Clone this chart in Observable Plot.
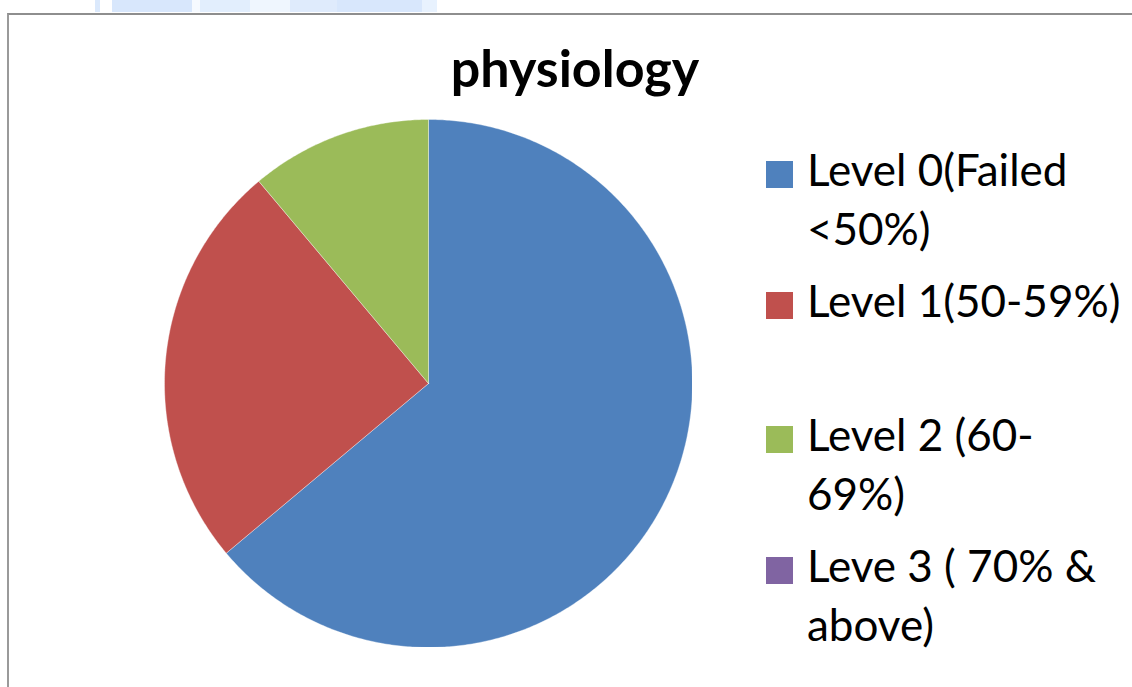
<!DOCTYPE html>
<html>
<head>
<meta charset="utf-8">
<script src="https://cdn.jsdelivr.net/npm/d3@7"></script>
<script src="https://cdn.jsdelivr.net/npm/@observablehq/plot@0.6"></script>
<style>
  html, body { margin: 0; padding: 0; background: #fff; }
  #wrap { position: relative; width: 1132px; height: 687px; overflow: hidden; background: #fff; font-family: Lato, "Open Sans", sans-serif; }
  #strip { position: absolute; left: 0; top: 0; width: 1132px; height: 12px;
    background: linear-gradient(to right, #fff 0 95px, #dbe9fc 95px 100px, #fff 100px 112px, #d8e7fc 112px 192px, #f6faff 192px 200px, #e2eefd 200px 250px, #eff6fe 250px 290px, #dfebfc 290px 337px, #d8e7fc 337px 422px, #e8f2fe 422px 437px, #fff 437px); }
  #frame { position: absolute; left: 7px; top: 13px; width: 1200px; height: 800px; border-top: 2px solid #8e8e8e; border-left: 2px solid #9a9a9a; }
  #title { position: absolute; left: 375px; width: 400px; top: 37px; text-align: center; font-weight: 700; font-size: 52px; line-height: 60px; color: #000; }
  #pie { position: absolute; left: 164px; top: 119px; }
  .item { position: absolute; left: 766px; }
  .sw { position: absolute; left: 0; top: 21px; width: 27px; height: 27px; }
  .lbl { position: absolute; left: 41px; top: 0; white-space: nowrap; font-size: 44px; line-height: 59px; color: #000; }
</style>
</head>
<body>
<div id="wrap">
  <div id="strip"></div>
  <div id="frame"></div>
  <div id="title"></div>
  <div id="pie"></div>
  <div id="legend"></div>
</div>
<script>
// ---- data ----
const title = "physiology";
const categories = ["Level 0(Failed <50%)", "Level 1(50-59%)", "Level 2 (60-69%)", "Leve 3 ( 70% & above)"];
const values = [23, 9, 4, 0];
const colors = ["#4F81BD", "#C0504D", "#9BBB59", "#8064A2"];
const legendLines = [["Level 0(Failed", "<50%)"], ["Level 1(50-59%)"], ["Level 2 (60-", "69%)"], ["Leve 3 ( 70% &", "above)"]];

document.getElementById("title").textContent = title;

// pie geometry from data (angles from d3.pie; points sampled along each arc)
const arcs = d3.pie().sort(null).value(d => d.value)(categories.map((c, i) => ({category: c, value: values[i]})));
const pts = [];
for (const a of arcs) {
  if (a.endAngle - a.startAngle <= 0) continue;
  const c = a.data.category;
  pts.push({category: c, x: 0, y: 0});
  const n = Math.max(2, Math.ceil((a.endAngle - a.startAngle) / (Math.PI / 360)));
  for (let k = 0; k <= n; k++) {
    const t = a.startAngle + (a.endAngle - a.startAngle) * k / n;
    pts.push({category: c, x: Math.sin(t), y: Math.cos(t)});
  }
  pts.push({category: c, x: 0, y: 0});
}

const size = 528;
const chart = Plot.plot({
  width: size, height: size, margin: 0,
  x: {domain: [-1, 1], axis: null},
  y: {domain: [-1, 1], axis: null},
  color: {domain: categories, range: colors},
  marks: [
    Plot.line(pts, {x: "x", y: "y", z: "category", fill: "category", stroke: "#ffffff", strokeWidth: 0.6, strokeOpacity: 0.6, curve: "linear-closed"})
  ]
});
document.getElementById("pie").appendChild(chart);

// legend
const tops = [140, 271, 405, 536];
const legend = document.getElementById("legend");
categories.forEach((c, i) => {
  const it = document.createElement("div");
  it.className = "item";
  it.style.top = tops[i] + "px";
  const sw = document.createElement("div");
  sw.className = "sw";
  sw.style.background = colors[i];
  const lb = document.createElement("div");
  lb.className = "lbl";
  lb.innerHTML = legendLines[i].map(s => s.replace(/&/g, "&amp;").replace(/</g, "&lt;")).join("<br>");
  it.appendChild(sw); it.appendChild(lb);
  legend.appendChild(it);
});
</script>
</body>
</html>
